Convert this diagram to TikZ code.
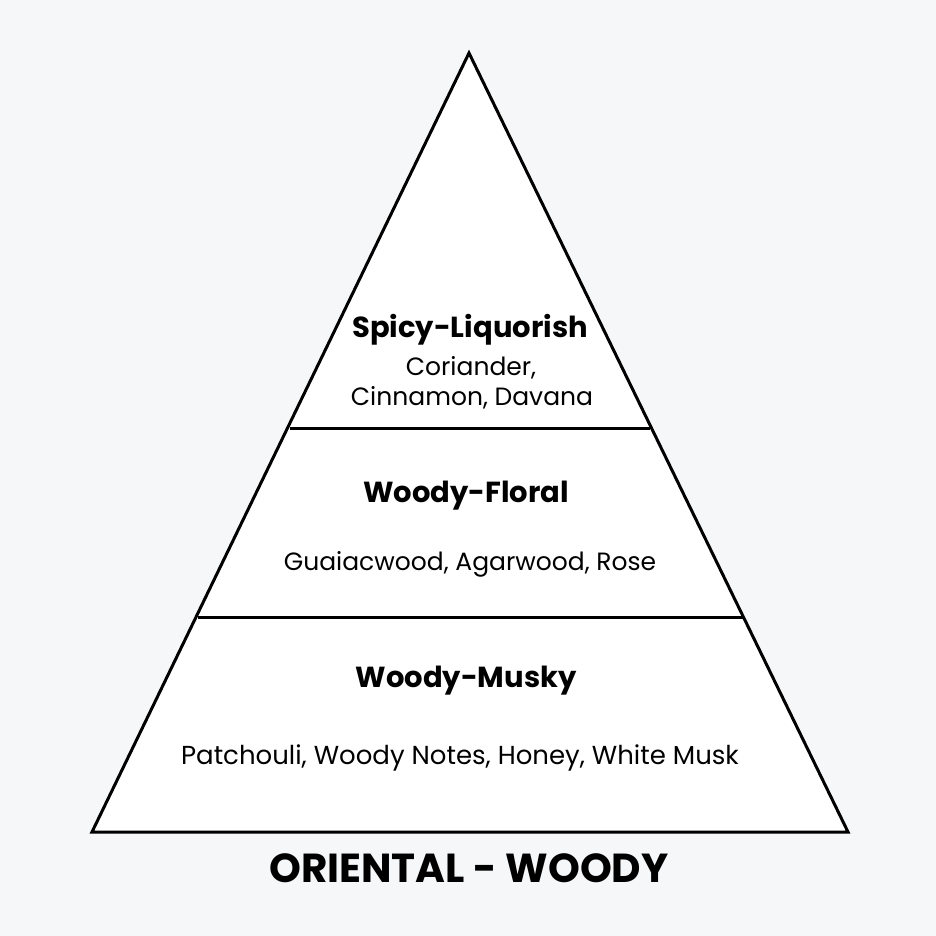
\documentclass[tikz,border=0pt]{standalone}
\usepackage{fontspec}
\setmainfont{Poppins}
\definecolor{bg}{HTML}{F6F7F9}
\begin{document}
\begin{tikzpicture}[x=1pt,y=-1pt,
  edge/.style={line width=3pt,line join=miter,draw=black},
  head/.style={font=\fontsize{29}{32}\selectfont\bfseries,anchor=base,inner sep=0pt},
  notes/.style={font=\fontsize{25}{30}\selectfont,anchor=base,inner sep=0pt},
  title/.style={font=\fontsize{40.5}{44}\selectfont\bfseries,anchor=base,inner sep=0pt}]
\fill[bg] (0,0) rectangle (936,936);
\useasboundingbox (0,0) rectangle (936,936);
\coordinate (apex) at (469,53);
\coordinate (bl) at (92,832);
\coordinate (br) at (848,832);
\coordinate (l1) at (290,428);
\coordinate (r1) at (650,428);
\coordinate (l2) at (198,617);
\coordinate (r2) at (743,617);
\filldraw[fill=white,edge] (apex) -- (br) -- (bl) -- cycle;
\draw[edge] (l1) -- (r1);
\draw[edge] (l2) -- (r2);
\node[head] (h1) at (470,337) {Spicy-Liquorish};
\node[notes] (n1a) at (471,375) {Coriander,};
\node[notes] (n1b) at (472,405) {Cinnamon, Davana};
\node[head] (h2) at (466,502) {Woody-Floral};
\node[notes] (n2) at (470,570) {Guaiacwood, Agarwood, Rose};
\node[head] (h3) at (466,687) {Woody-Musky};
\node[notes,font=\fontsize{26}{30}\selectfont] (n3) at (460,764) {Patchouli, Woody Notes, Honey, White Musk};
\node[title] (t) at (469,882) {ORIENTAL - WOODY};
\end{tikzpicture}
\end{document}
